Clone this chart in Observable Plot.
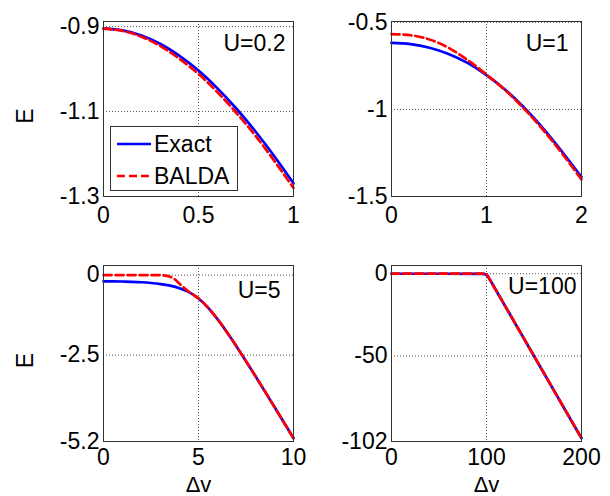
<!DOCTYPE html>
<html>
<head>
<meta charset="utf-8">
<script src="https://cdn.jsdelivr.net/npm/d3@7"></script>
<script src="https://cdn.jsdelivr.net/npm/@observablehq/plot@0.6"></script>
<style>
  body { margin: 0; background: #fff; }
  #wrap { position: relative; width: 610px; height: 496px; font-family: "Liberation Sans", Arial, sans-serif; }
  .pan { position: absolute; }
  #legend { position: absolute; left: 110px; top: 126px; width: 128px; height: 65px; border: 1px solid #333; background: #fff; box-sizing: border-box; }
  #legend .row { position: absolute; left: 0; height: 30px; display: flex; align-items: center; font-size: 23px; color: #000; }
  #legend svg { display: block; }
</style>
</head>
<body>
<div id="wrap"></div>
<script>
// ---- data ----
const dv1 = [0, 0.1, 0.2, 0.3, 0.4, 0.5, 0.6, 0.7, 0.8, 0.9, 1];
const exact1 = [-0.905, -0.909, -0.921, -0.941, -0.969, -1.0035, -1.0455, -1.0934, -1.147, -1.2057, -1.2689];
const balda1 = [-0.905, -0.910, -0.924, -0.946, -0.976, -1.0115, -1.0545, -1.1034, -1.157, -1.2167, -1.2799];

const dv2 = [0, 0.2, 0.4, 0.6, 0.8, 1.0, 1.2, 1.4, 1.6, 1.8, 2.0];
const exact2 = [-0.618, -0.625, -0.646, -0.6815, -0.733, -0.8025, -0.888, -0.992, -1.112, -1.246, -1.388];
const balda2 = [-0.567, -0.574, -0.598, -0.646, -0.716, -0.800, -0.891, -0.998, -1.120, -1.256, -1.402];

const dv3 = [0, 0.5, 1, 1.5, 2, 2.5, 3, 3.5, 4, 4.5, 5, 5.5, 6, 6.5, 7, 8, 9, 10];
const exact3 = [-0.193, -0.194, -0.1995, -0.209, -0.224, -0.246, -0.2795, -0.33, -0.408, -0.533, -0.731, -1.015, -1.376, -1.786, -2.228, -3.16, -4.122, -5.098];
const dv3b = [0, 1, 2, 3, 3.25, 3.5, 3.75, 4, 4.25, 4.5, 5, 5.5, 6, 6.5, 7, 8, 9, 10];
const balda3 = [0, 0, 0, 0, -0.015, -0.05, -0.13, -0.27, -0.40, -0.53, -0.725, -1.015, -1.376, -1.786, -2.228, -3.16, -4.122, -5.098];

const dv4 = [0, 50, 90, 95, 98, 100, 102, 105, 110, 150, 200];
const exact4 = [-0.01, -0.013, -0.053, -0.1, -0.227, -0.71, -2.225, -5.05, -10.05, -50.01, -100.005];
const dv4b = [0, 100, 200];
const balda4 = [0, 0, -100];

const xTicks1 = [0, 0.5, 1], yTicks1 = [-1.3, -1.1, -0.9];
const xTicks2 = [0, 1, 2],   yTicks2 = [-1.5, -1, -0.5];
const xTicks3 = [0, 5, 10],  yTicks3 = [-5.2, -2.5, 0];
const xTicks4 = [0, 100, 200], yTicks4 = [-102, -50, 0];

const uLabels = ["U=0.2", "U=1", "U=5", "U=100"];
const seriesNames = ["Exact", "BALDA"];
const yLabel = "E", xLabel = "Δv";

// ---- drawing ----
const BLUE = "#0000ff", RED = "#ff0000";
const wrap = document.getElementById("wrap");

function panel(cfg) {
  const marks = [
    Plot.gridX(cfg.xTicks, {stroke: "#444", strokeOpacity: 1, strokeWidth: 0.9, strokeDasharray: "1,2"}),
    Plot.gridY(cfg.yTicks, {stroke: "#444", strokeOpacity: 1, strokeWidth: 0.9, strokeDasharray: "1,2"}),
    Plot.axisX(cfg.xTicks, {tickSize: 0, tickPadding: cfg.showX ? 7 : 10, tickFormat: d => String(d), fontSize: 23, label: null}),
    Plot.axisY(cfg.yTicks, {tickSize: 0, tickPadding: 4, tickFormat: d => String(d), fontSize: 23, label: null}),
    Plot.line(cfg.exact, {x: (d, i) => cfg.xs[i], y: d => d, stroke: BLUE, strokeWidth: 2.7, curve: cfg.curve}),
    Plot.line(cfg.balda, {x: (d, i) => cfg.xsb[i], y: d => d, stroke: RED, strokeWidth: 2.7, strokeDasharray: "8,4", curve: cfg.curve}),
    Plot.frame({stroke: "#333", strokeWidth: 1}),
    Plot.text([cfg.u], {frameAnchor: "top-right", textAnchor: "end", lineAnchor: "middle", dx: cfg.udx, dy: cfg.udy, fontSize: 23, fill: "#000"})
  ];
  if (cfg.showE) marks.push(Plot.text([yLabel], {frameAnchor: "left", lineAnchor: "middle", textAnchor: "middle", dx: -78, dy: 7, rotate: -90, fontSize: 23, fill: "#000"}));
  if (cfg.showX) marks.push(Plot.text([xLabel], {frameAnchor: "bottom", lineAnchor: "middle", textAnchor: "middle", dy: 43, fontSize: 22, fill: "#000"}));
  const p = Plot.plot({
    width: cfg.w, height: cfg.h,
    marginLeft: cfg.ml, marginRight: cfg.mr, marginTop: cfg.mt, marginBottom: cfg.mb,
    x: {domain: cfg.xd, axis: null},
    y: {domain: cfg.yd, axis: null},
    style: {fontFamily: "'Liberation Sans', Arial, sans-serif", fontSize: "23px", color: "#000", background: "transparent", overflow: "visible"},
    marks
  });
  const d = document.createElement("div");
  d.className = "pan";
  d.style.left = cfg.left + "px";
  d.style.top = cfg.top + "px";
  d.appendChild(p);
  wrap.appendChild(d);
}

panel({left: 0, top: 0, w: 305, h: 245, ml: 103, mr: 12, mt: 21, mb: 49,
  xd: [0, 1], yd: [-1.3, -0.888], xTicks: xTicks1, yTicks: yTicks1,
  xs: dv1, exact: exact1, xsb: dv1, balda: balda1, curve: "monotone-x",
  u: uLabels[0], udx: -8, udy: 22, showE: true, showX: false});
panel({left: 305, top: 0, w: 305, h: 245, ml: 86, mr: 29, mt: 21, mb: 49,
  xd: [0, 2], yd: [-1.5, -0.495], xTicks: xTicks2, yTicks: yTicks2,
  xs: dv2, exact: exact2, xsb: dv2, balda: balda2, curve: "monotone-x",
  u: uLabels[1], udx: -13, udy: 22, showE: false, showX: false});
panel({left: 0, top: 245, w: 305, h: 251, ml: 103, mr: 12, mt: 20, mb: 55,
  xd: [0, 10], yd: [-5.2, 0.3], xTicks: xTicks3, yTicks: yTicks3,
  xs: dv3, exact: exact3, xsb: dv3b, balda: balda3, curve: "monotone-x",
  u: uLabels[2], udx: -13, udy: 25, showE: true, showX: true});
panel({left: 305, top: 245, w: 305, h: 251, ml: 86, mr: 29, mt: 20, mb: 55,
  xd: [0, 200], yd: [-102, 5], xTicks: xTicks4, yTicks: yTicks4,
  xs: dv4, exact: exact4, xsb: dv4b, balda: balda4, curve: "linear",
  u: uLabels[3], udx: -5, udy: 21, showE: false, showX: true});

// legend (panel U=0.2)
const leg = document.createElement("div");
leg.id = "legend";
const styles = [{stroke: BLUE, dash: null}, {stroke: RED, dash: "8,4"}];
seriesNames.forEach((name, i) => {
  const row = document.createElement("div");
  row.className = "row";
  row.style.top = (i === 0 ? 2 : 34) + "px";
  const ns = "http://www.w3.org/2000/svg";
  const s = document.createElementNS(ns, "svg");
  s.setAttribute("width", 43); s.setAttribute("height", 30);
  const l = document.createElementNS(ns, "line");
  l.setAttribute("x1", 6); l.setAttribute("x2", 40);
  l.setAttribute("y1", 15); l.setAttribute("y2", 15);
  l.setAttribute("stroke", styles[i].stroke);
  l.setAttribute("stroke-width", 2.7);
  if (styles[i].dash) l.setAttribute("stroke-dasharray", styles[i].dash);
  s.appendChild(l);
  row.appendChild(s);
  const t = document.createElement("span");
  t.textContent = name;
  row.appendChild(t);
  leg.appendChild(row);
});
wrap.appendChild(leg);
</script>
</body>
</html>
